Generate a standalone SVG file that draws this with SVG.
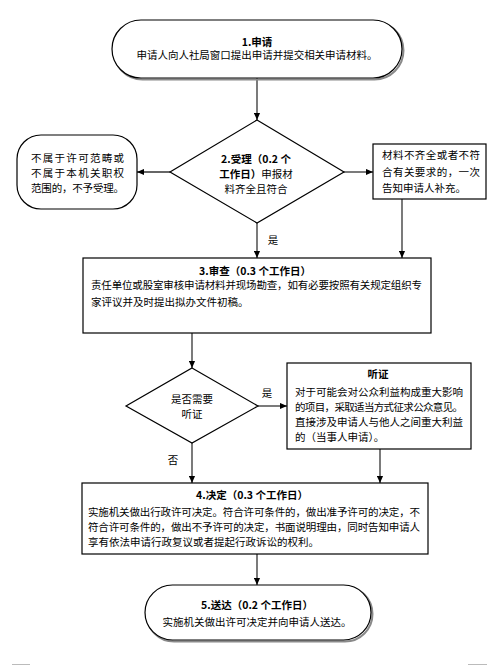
<svg xmlns="http://www.w3.org/2000/svg" width="501" height="665" viewBox="0 0 501 665">
<style>
text{font-family:"Noto Sans CJK SC","Liberation Sans",sans-serif;font-size:10.5px;fill:#000}
.b{font-weight:bold}
.c{text-anchor:middle}
.sh{fill:none;stroke:#8a8a8a;stroke-width:2}
.n{fill:#fff;stroke:#000;stroke-width:1.2}
.e{fill:none;stroke:#333;stroke-width:1.3}
</style>
<defs>
<marker id="ah" viewBox="0 0 8 8" refX="8" refY="4" markerWidth="7" markerHeight="7" markerUnits="userSpaceOnUse" orient="auto">
<path d="M0,0.5 L8,4 L0,7.5 Z" fill="#000"/>
</marker>
</defs>
<rect width="501" height="665" fill="#fff"/>
<g id="connectors">
<path class="e" marker-end="url(#ah)" d="M257,78 V120"/>
<path class="e" marker-end="url(#ah)" d="M170,172 H137"/>
<path class="e" marker-end="url(#ah)" d="M343,172 H373"/>
<path class="e" marker-end="url(#ah)" d="M257,223 V258"/>
<path class="e" marker-end="url(#ah)" d="M402,199 V258"/>
<path class="e" marker-end="url(#ah)" d="M192,333 V368"/>
<path class="e" marker-end="url(#ah)" d="M258,406 H287"/>
<path class="e" marker-end="url(#ah)" d="M192,443 V483"/>
<path class="e" marker-end="url(#ah)" d="M380,449 V483"/>
<path class="e" marker-end="url(#ah)" d="M257,554 V585"/>
<text x="273" y="244" class="c">是</text>
<text x="267" y="397" class="c">是</text>
<text x="173" y="464" class="c">否</text>
</g>
<g id="n1">
<rect class="sh" x="113.5" y="21.5" width="290" height="58" rx="29"/>
<rect class="n" x="112" y="20" width="290" height="58" rx="29"/>
<text x="257" y="45.5" class="c b">1.申请</text>
<text x="257" y="59" class="c" textLength="241">申请人向人社局窗口提出申请并提交相关申请材料。</text>
</g>
<g id="n2">
<path class="n" d="M257,120 L344,172 L257,223 L170,172 Z"/>
<text x="256" y="163" class="c b">2.受理（0.2 个</text>
<text x="256" y="177.5" class="c"><tspan class="b">工作日）</tspan>申报材</text>
<text x="256" y="193" class="c">料齐全且符合</text>
</g>
<g id="n_reject">
<rect class="n" x="17" y="135" width="120" height="74" rx="24"/>
<text x="31" y="162" textLength="93">不属于许可范畴或</text>
<text x="31" y="177" textLength="93">不属于本机关职权</text>
<text x="31" y="192" textLength="93">范围的，不予受理。</text>
</g>
<g id="n_supplement">
<rect class="n" x="373" y="144" width="113" height="55"/>
<text x="382" y="159" textLength="98">材料不齐全或者不符</text>
<text x="382" y="176" textLength="98">合有关要求的，一次</text>
<text x="382" y="192">告知申请人补充。</text>
</g>
<g id="n3">
<rect class="n" x="83" y="258" width="348" height="75"/>
<text x="255" y="275" class="c b">3.审查（0.3 个工作日）</text>
<text x="91" y="289" textLength="331">责任单位或股室审核申请材料并现场勘查，如有必要按照有关规定组织专</text>
<text x="91" y="305.5">家评议并及时提出拟办文件初稿。</text>
</g>
<g id="n_decide">
<path class="n" d="M192,368 L258,406 L192,443 L126,406 Z"/>
<text x="192" y="403" class="c">是否需要</text>
<text x="192" y="418" class="c">听证</text>
</g>
<g id="n_hearing">
<rect class="n" x="287" y="363" width="184" height="86"/>
<text x="378" y="378" class="c b">听证</text>
<text x="295" y="396" textLength="168">对于可能会对公众利益构成重大影响</text>
<text x="295" y="410.5" textLength="168">的项目，采取适当方式征求公众意见。</text>
<text x="295" y="426" textLength="168">直接涉及申请人与他人之间重大利益</text>
<text x="295" y="441">的（当事人申请）。</text>
</g>
<g id="n4">
<rect class="n" x="82" y="483" width="346" height="71"/>
<text x="252" y="499" class="c b">4.决定（0.3 个工作日）</text>
<text x="88" y="515.5" textLength="332">实施机关做出行政许可决定。符合许可条件的，做出准予许可的决定，不</text>
<text x="88" y="530.5" textLength="332">符合许可条件的，做出不予许可的决定，书面说明理由，同时告知申请人</text>
<text x="88" y="545.5">享有依法申请行政复议或者提起行政诉讼的权利。</text>
</g>
<g id="n5">
<rect class="sh" x="146.5" y="586.5" width="226" height="55" rx="27.5"/>
<rect class="n" x="145" y="585" width="226" height="55" rx="27.5"/>
<text x="257" y="609" class="c b">5.送达（0.2 个工作日）</text>
<text x="257" y="626" class="c">实施机关做出许可决定并向申请人送达。</text>
</g>
<path d="M12,664.5 H30 M468,664.5 H487" stroke="#bbb" stroke-width="1"/>
</svg>
